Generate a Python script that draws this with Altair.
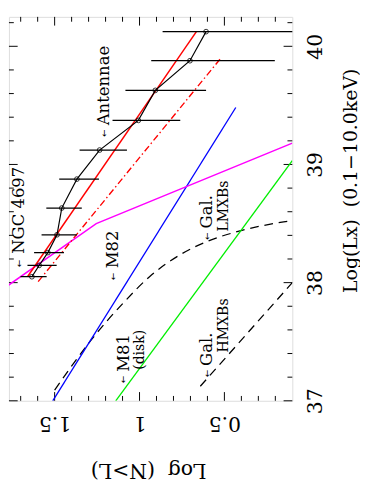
import altair as alt
import pandas as pd

FONT = "DejaVu Serif"
W, H = 293, 397

# ---------------- data ----------------
# observed cumulative XLF (black circles with horizontal error bars)
pt_lx = [40.124, 39.878, 39.627, 39.373, 39.122, 38.876, 38.631, 38.405, 38.254, 38.146, 38.05]
pt_n = [0.608, 0.703, 0.907, 1.007, 1.235, 1.369, 1.458, 1.486, 1.540, 1.591, 1.634]
pt_lo = [0.0, 0.203, 0.608, 0.760, 1.074, 1.239, 1.340, 1.369, 1.445, 1.488, 1.547]
pt_hi = [0.864, 0.931, 1.083, 1.159, 1.353, 1.473, 1.549, 1.577, 1.621, 1.660, 1.701]

# comparison XLFs
red_n, red_lx = [1.660, 0.665], [38.05, 40.124]
reddd_n, reddd_lx = [1.597, 0.526], [38.009, 39.891]
blue_n, blue_lx = [1.511, 0.433], [37.0, 39.482]
green_n, green_lx = [1.140, 0.1], [37.0, 39.032]
mag_n, mag_lx = [1.82, 1.255, 0.1], [37.93, 38.5, 39.18]
lmxb_n = [1.50, 1.283, 1.093, 0.941, 0.770, 0.599, 0.408, 0.151, 0.08]
lmxb_lx = [37.09, 37.518, 37.832, 38.05, 38.228, 38.35, 38.438, 38.514, 38.53]
hmxb_n, hmxb_lx = [0.642, 0.1], [37.123, 38.0]

# annotations
lab_text = ["NGC 4697", "Antennae", "M82", "M81", "Gal.", "Gal."]
lab_n = [1.711, 1.207, 1.153, 1.093, 0.604, 0.602]
lab_lx = [38.244, 39.332, 38.121, 37.245, 38.459, 37.295]
sub_text = ["(disk)", "LMXBs", "HMXBs"]
sub_n = [0.998, 0.503, 0.50]
sub_lx = [37.262, 38.432, 37.409]
arr_n = [1.711, 1.207, 1.153, 1.097, 0.604, 0.600]
arr_lx = [38.162, 39.264, 38.05, 37.18, 38.391, 37.229]

# axis ticks
x_major = [0.5, 1.0, 1.5]
x_minor = [0.2, 0.3, 0.4, 0.6, 0.7, 0.8, 0.9, 1.1, 1.2, 1.3, 1.4, 1.6, 1.7]
y_major = [37, 38, 39, 40]
y_minor = [37.2, 37.4, 37.6, 37.8, 38.2, 38.4, 38.6, 38.8, 39.2, 39.4, 39.6, 39.8, 40.2]

# ---------------- scales and axes ----------------
xs = alt.Scale(domain=[0.1, 1.769], reverse=True, nice=False, zero=False)
ys = alt.Scale(domain=[37.0, 40.249], nice=False, zero=False)

x_axis = alt.Axis(
    orient="bottom", values=x_major, format="~g",
    labelAngle=180, labelAlign="center", labelBaseline="bottom", labelPadding=12,
    labelFont=FONT, labelFontSize=21, labelColor="black",
    ticks=False, tickSize=0, domain=False, grid=False,
    title="Log\u00a0\u00a0(N>L)", titleFont=FONT, titleFontSize=21,
    titleFontWeight="normal", titleColor="black", titleAngle=180,
    titleAlign="center", titleBaseline="bottom", titleX=144, titleY=61,
)
y_axis = alt.Axis(
    orient="right", values=y_major, format="d",
    labelAngle=270, labelAlign="center", labelBaseline="top", labelPadding=13,
    labelFont=FONT, labelFontSize=21, labelColor="black",
    ticks=False, tickSize=0, domain=False, grid=False,
    title="Log(Lx)\u00a0\u00a0(0.1\u221210.0keV)", titleFont=FONT, titleFontSize=19.5,
    titleFontWeight="normal", titleColor="black", titleAngle=270,
    titleAlign="center", titleBaseline="top", titleX=51, titleY=169,
)

X = lambda f: alt.X(f"{f}:Q", scale=xs, axis=x_axis)
Y = lambda f: alt.Y(f"{f}:Q", scale=ys, axis=y_axis)


def line(ns, lxs, color, width=1.3, dash=None, interp="linear"):
    df = pd.DataFrame({"n": ns, "lx": lxs, "i": list(range(len(ns)))})
    kw = dict(color=color, strokeWidth=width, clip=True, interpolate=interp)
    if dash:
        kw["strokeDash"] = dash
    return alt.Chart(df).mark_line(**kw).encode(x=X("n"), y=Y("lx"), order="i:Q")


pts = pd.DataFrame({"n": pt_n, "lx": pt_lx, "lo": pt_lo, "hi": pt_hi, "i": list(range(len(pt_n)))})

layers = []
# ticks (inward, on all four sides)
for vals, ln in ((x_major, 9), (x_minor, 5)):
    d = pd.DataFrame({"n": vals})
    layers.append(alt.Chart(d).mark_rule(color="black", strokeWidth=1).encode(
        x=X("n"), y=alt.value(H), y2=alt.value(H - ln)))
    layers.append(alt.Chart(d).mark_rule(color="black", strokeWidth=1).encode(
        x=X("n"), y=alt.value(0), y2=alt.value(ln)))
for vals, ln in ((y_major, 9), (y_minor, 5)):
    d = pd.DataFrame({"lx": vals})
    layers.append(alt.Chart(d).mark_rule(color="black", strokeWidth=1).encode(
        y=Y("lx"), x=alt.value(0), x2=alt.value(ln)))
    layers.append(alt.Chart(d).mark_rule(color="black", strokeWidth=1).encode(
        y=Y("lx"), x=alt.value(W), x2=alt.value(W - ln)))

# model / comparison lines
layers.append(line(lmxb_n, lmxb_lx, "black", 1.3, [9, 6], "monotone"))
layers.append(line(hmxb_n, hmxb_lx, "black", 1.3, [9, 6]))
layers.append(line(green_n, green_lx, "#00ee00", 1.4))
layers.append(line(blue_n, blue_lx, "#0000ff", 1.4))
layers.append(line(mag_n, mag_lx, "#ff00ff", 1.5))
layers.append(line(reddd_n, reddd_lx, "#ff0000", 1.4, [7, 3, 1.5, 3]))
layers.append(line(red_n, red_lx, "#ff0000", 1.5))

# observed data
layers.append(alt.Chart(pts).mark_rule(color="black", strokeWidth=1.3, clip=True).encode(
    x=X("lo"), x2="hi:Q", y=Y("lx")))
layers.append(alt.Chart(pts).mark_line(color="black", strokeWidth=1.2).encode(
    x=X("n"), y=Y("lx"), order="i:Q"))
layers.append(alt.Chart(pts).mark_point(shape="circle", filled=False, size=24, color="black",
                                        strokeWidth=0.8, opacity=1).encode(x=X("n"), y=Y("lx")))

# annotations
labs = pd.DataFrame({"t": lab_text, "n": lab_n, "lx": lab_lx})
subs = pd.DataFrame({"t": sub_text, "n": sub_n, "lx": sub_lx})
arrs = pd.DataFrame({"n": arr_n, "lx": arr_lx, "t": ["\u2190"] * len(arr_n)})
layers.append(alt.Chart(labs).mark_text(angle=270, align="left", baseline="middle", font=FONT,
                                        fontSize=17, color="black").encode(
    x=X("n"), y=Y("lx"), text="t:N"))
layers.append(alt.Chart(subs).mark_text(angle=270, align="left", baseline="middle", font=FONT,
                                        fontSize=14.5, color="black").encode(
    x=X("n"), y=Y("lx"), text="t:N"))
layers.append(alt.Chart(arrs).mark_text(angle=270, align="center", baseline="middle", font="DejaVu Sans",
                                        fontSize=9, color="black").encode(
    x=X("n"), y=Y("lx"), text="t:N"))

chart = alt.layer(*layers).properties(
    width=W, height=H, padding={"left": 0, "top": 0, "right": 0, "bottom": 0}
).configure_view(stroke="black", strokeWidth=1.3).configure(background="white")

chart.save("out.html", embed_options={"renderer": "svg", "actions": False})
